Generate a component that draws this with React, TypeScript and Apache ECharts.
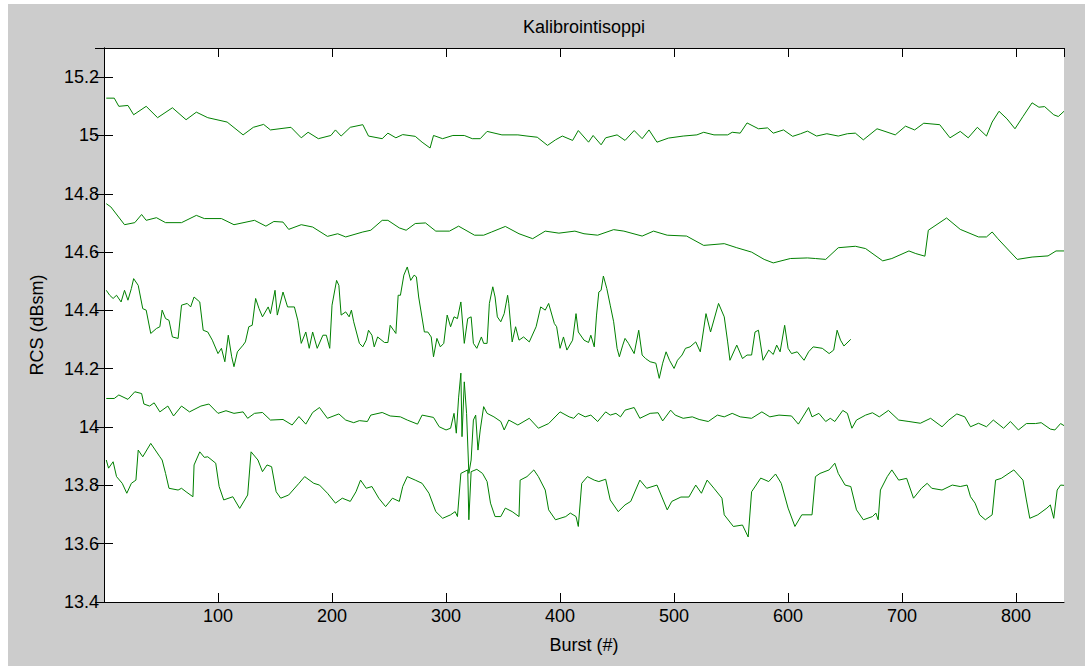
import React, { useEffect, useRef } from "react";
import * as echarts from "echarts";

const TITLE = "Kalibrointisoppi";
const X_LABEL = "Burst (#)";
const Y_LABEL = "RCS (dBsm)";

const X_MIN = 0;
const X_MAX = 842;
const X_STEP = 100;
const Y_MIN = 13.4;
const Y_MAX = 15.3;
const Y_STEP = 0.2;

// [burst, RCS dBsm]
const series1: [number, number][] = [
  [2, 15.128], [9, 15.128], [13, 15.1], [21, 15.103], [26, 15.071], [37, 15.1], [47, 15.061], [60, 15.095],
  [72, 15.054], [81, 15.08], [91, 15.061], [108, 15.046], [122, 15.002], [131, 15.028], [140, 15.038],
  [146, 15.019], [164, 15.028], [173, 14.992], [179, 15.011], [188, 14.989], [199, 15.0], [203, 15.019],
  [208, 14.998], [216, 15.028], [227, 15.037], [232, 14.998], [244, 14.989], [249, 15.008], [256, 14.992],
  [262, 15.003], [273, 14.997], [279, 14.977], [286, 14.957], [289, 15.0], [297, 14.989], [306, 15.0],
  [316, 15.0], [323, 14.989], [330, 14.989], [336, 15.014], [349, 15.002], [363, 15.002], [371, 14.998],
  [380, 14.994], [389, 14.966], [396, 14.985], [402, 14.998], [411, 14.983], [416, 15.017], [425, 14.977],
  [429, 15.0], [436, 14.968], [440, 14.992], [450, 15.002], [457, 14.983], [465, 15.017], [472, 14.989],
  [478, 15.019], [485, 14.977], [495, 14.991], [508, 14.998], [520, 15.002], [526, 15.011], [535, 15.002],
  [547, 15.002], [551, 15.011], [558, 15.008], [564, 15.043], [574, 15.023], [582, 15.026], [587, 15.008],
  [596, 15.019], [604, 14.997], [611, 15.006], [617, 15.015], [625, 14.998], [634, 15.006], [644, 14.998],
  [652, 15.006], [659, 15.008], [666, 14.985], [678, 15.023], [685, 15.014], [694, 15.002], [703, 15.032],
  [711, 15.019], [719, 15.042], [733, 15.037], [742, 14.992], [751, 15.014], [758, 14.992], [766, 15.028],
  [774, 14.998], [779, 15.046], [785, 15.083], [792, 15.057], [799, 15.023], [806, 15.065], [814, 15.112],
  [820, 15.097], [825, 15.099], [833, 15.071], [837, 15.065], [842, 15.083],
];

const series2: [number, number][] = [
  [2, 14.766], [6, 14.755], [18, 14.694], [27, 14.701], [33, 14.729], [37, 14.709], [46, 14.718], [54, 14.701],
  [68, 14.701], [81, 14.726], [88, 14.715], [103, 14.715], [114, 14.694], [132, 14.709], [142, 14.689],
  [149, 14.705], [157, 14.703], [162, 14.678], [173, 14.694], [183, 14.686], [196, 14.654], [205, 14.663],
  [212, 14.652], [227, 14.669], [234, 14.675], [244, 14.709], [249, 14.709], [259, 14.683], [265, 14.675],
  [273, 14.698], [282, 14.7], [291, 14.672], [303, 14.672], [311, 14.689], [325, 14.658], [333, 14.658],
  [340, 14.669], [352, 14.688], [364, 14.663], [376, 14.646], [387, 14.672], [399, 14.665], [413, 14.672],
  [421, 14.663], [433, 14.658], [447, 14.677], [456, 14.672], [472, 14.655], [482, 14.672], [494, 14.658],
  [511, 14.655], [526, 14.623], [544, 14.629], [555, 14.615], [568, 14.6], [579, 14.575], [587, 14.563],
  [602, 14.578], [617, 14.58], [624, 14.578], [633, 14.575], [644, 14.615], [659, 14.62], [668, 14.612],
  [683, 14.57], [691, 14.578], [706, 14.604], [712, 14.595], [720, 14.586], [723, 14.675], [739, 14.717],
  [751, 14.678], [767, 14.652], [774, 14.652], [779, 14.669], [784, 14.646], [801, 14.575], [814, 14.583],
  [828, 14.587], [835, 14.604], [842, 14.604],
];

const series3: [number, number][] = [
  [2, 14.469], [5, 14.452], [8, 14.441], [11, 14.452], [15, 14.429], [18, 14.469], [21, 14.435], [24, 14.475],
  [26, 14.509], [30, 14.486], [34, 14.406], [37, 14.401], [41, 14.321], [46, 14.338], [49, 14.344],
  [51, 14.401], [54, 14.372], [57, 14.366], [60, 14.309], [65, 14.304], [68, 14.418], [73, 14.424],
  [76, 14.412], [79, 14.446], [84, 14.429], [87, 14.332], [91, 14.326], [95, 14.298], [100, 14.252],
  [103, 14.27], [106, 14.224], [109, 14.315], [112, 14.241], [114, 14.207], [117, 14.258], [122, 14.281],
  [124, 14.292], [127, 14.344], [130, 14.349], [133, 14.441], [136, 14.406], [139, 14.378], [144, 14.412],
  [146, 14.389], [150, 14.469], [152, 14.384], [157, 14.463], [161, 14.412], [167, 14.412], [170, 14.366],
  [173, 14.287], [177, 14.326], [180, 14.27], [183, 14.326], [187, 14.27], [192, 14.315], [195, 14.315],
  [198, 14.27], [200, 14.418], [204, 14.503], [206, 14.486], [208, 14.384], [212, 14.395], [215, 14.378],
  [217, 14.401], [219, 14.361], [224, 14.287], [227, 14.275], [230, 14.298], [232, 14.332], [235, 14.315],
  [237, 14.275], [240, 14.309], [246, 14.29], [249, 14.29], [251, 14.349], [254, 14.332], [256, 14.321],
  [258, 14.452], [260, 14.452], [263, 14.521], [266, 14.549], [269, 14.503], [272, 14.521], [274, 14.515],
  [276, 14.446], [281, 14.326], [284, 14.326], [287, 14.309], [289, 14.241], [292, 14.304], [295, 14.275],
  [298, 14.287], [301, 14.384], [304, 14.344], [307, 14.378], [310, 14.372], [313, 14.429], [316, 14.287],
  [319, 14.372], [322, 14.378], [324, 14.287], [327, 14.27], [331, 14.309], [333, 14.287], [336, 14.287],
  [338, 14.424], [341, 14.481], [343, 14.446], [345, 14.378], [348, 14.361], [351, 14.389], [354, 14.452],
  [355, 14.424], [358, 14.292], [361, 14.344], [364, 14.298], [368, 14.309], [373, 14.292], [379, 14.344],
  [383, 14.412], [387, 14.401], [390, 14.424], [395, 14.355], [397, 14.344], [400, 14.27], [403, 14.309],
  [406, 14.264], [411, 14.298], [414, 14.389], [416, 14.326], [421, 14.298], [425, 14.29], [427, 14.315],
  [430, 14.275], [432, 14.384], [434, 14.463], [436, 14.469], [438, 14.518], [441, 14.475], [444, 14.418],
  [447, 14.361], [450, 14.27], [452, 14.241], [455, 14.281], [457, 14.304], [460, 14.287], [465, 14.252],
  [469, 14.332], [472, 14.247], [475, 14.235], [479, 14.224], [484, 14.219], [487, 14.167], [490, 14.219],
  [493, 14.258], [496, 14.229], [500, 14.201], [503, 14.229], [507, 14.247], [510, 14.27], [514, 14.275],
  [519, 14.292], [523, 14.258], [528, 14.389], [532, 14.326], [539, 14.424], [544, 14.378], [547, 14.292],
  [549, 14.229], [555, 14.281], [560, 14.235], [564, 14.247], [568, 14.247], [571, 14.326], [574, 14.332],
  [578, 14.229], [583, 14.264], [587, 14.249], [590, 14.281], [593, 14.258], [597, 14.349], [600, 14.27],
  [603, 14.252], [608, 14.258], [614, 14.229], [618, 14.258], [622, 14.275], [630, 14.27], [636, 14.252],
  [640, 14.264], [643, 14.332], [646, 14.298], [649, 14.278], [655, 14.301],
];

const series4: [number, number][] = [
  [2, 14.098], [9, 14.098], [13, 14.11], [21, 14.095], [27, 14.121], [33, 14.115], [35, 14.079], [40, 14.072],
  [44, 14.083], [49, 14.052], [56, 14.072], [61, 14.038], [68, 14.072], [75, 14.052], [85, 14.072],
  [92, 14.079], [100, 14.047], [107, 14.056], [114, 14.047], [122, 14.052], [126, 14.03], [132, 14.047],
  [139, 14.05], [146, 14.024], [157, 14.026], [165, 14.007], [171, 14.036], [177, 14.01], [183, 14.05],
  [189, 14.067], [196, 14.03], [206, 14.045], [212, 14.024], [219, 14.015], [224, 14.022], [231, 14.019],
  [234, 14.041], [244, 14.05], [251, 14.038], [260, 14.035], [266, 14.024], [275, 14.01], [279, 14.041],
  [289, 14.033], [294, 14.001], [300, 13.99], [304, 13.996], [307, 14.047], [309, 13.979], [311, 14.1],
  [313, 14.185], [314, 13.967], [316, 14.155], [318, 14.047], [320, 13.841], [322, 13.887], [324, 14.024],
  [326, 14.041], [328, 13.921], [330, 13.99], [333, 14.07], [336, 14.047], [342, 14.035], [348, 14.019],
  [351, 13.99], [355, 14.024], [363, 14.007], [373, 14.03], [381, 13.996], [390, 14.012], [400, 14.052],
  [408, 14.035], [412, 14.03], [416, 14.047], [422, 14.035], [427, 14.041], [433, 14.019], [440, 14.052],
  [444, 14.041], [449, 14.047], [453, 14.035], [457, 14.058], [465, 14.067], [470, 14.03], [479, 14.047],
  [486, 14.049], [490, 14.021], [497, 14.058], [501, 14.041], [508, 14.03], [516, 14.035], [522, 14.026],
  [530, 14.019], [538, 14.041], [544, 14.035], [551, 14.047], [558, 14.035], [568, 14.03], [577, 14.052],
  [584, 14.035], [592, 14.041], [603, 14.038], [609, 14.01], [618, 14.067], [621, 14.035], [627, 14.047],
  [633, 14.019], [637, 14.03], [641, 14.019], [648, 14.057], [652, 14.047], [656, 13.996], [660, 14.024],
  [668, 14.041], [674, 14.049], [680, 14.035], [688, 14.057], [697, 14.024], [706, 14.019], [716, 14.013],
  [725, 14.03], [735, 14.001], [741, 14.024], [748, 14.045], [755, 14.035], [760, 14.001], [767, 14.013],
  [774, 14.001], [780, 14.024], [789, 13.996], [795, 14.019], [802, 13.99], [809, 14.012], [817, 14.012],
  [822, 14.015], [830, 13.993], [834, 13.99], [839, 14.012], [842, 14.005],
];

const series5: [number, number][] = [
  [2, 13.887], [4, 13.859], [8, 13.881], [11, 13.83], [16, 13.807], [20, 13.773], [24, 13.807], [28, 13.818],
  [30, 13.921], [34, 13.898], [41, 13.944], [49, 13.898], [51, 13.887], [54, 13.841], [57, 13.79],
  [65, 13.784], [68, 13.79], [72, 13.778], [78, 13.761], [79, 13.87], [84, 13.915], [88, 13.896],
  [91, 13.898], [98, 13.876], [101, 13.796], [105, 13.75], [113, 13.761], [119, 13.721], [126, 13.767],
  [129, 13.915], [135, 13.887], [139, 13.847], [143, 13.87], [147, 13.864], [151, 13.778], [155, 13.756],
  [162, 13.767], [171, 13.807], [176, 13.83], [184, 13.807], [189, 13.801], [196, 13.773], [203, 13.739],
  [209, 13.756], [216, 13.745], [221, 13.778], [225, 13.818], [230, 13.79], [235, 13.796], [241, 13.756],
  [247, 13.727], [253, 13.756], [259, 13.745], [262, 13.796], [266, 13.83], [273, 13.818], [279, 13.807],
  [285, 13.773], [291, 13.71], [297, 13.687], [304, 13.699], [308, 13.71], [310, 13.693], [313, 13.841],
  [319, 13.853], [320, 13.682], [322, 13.847], [327, 13.855], [332, 13.841], [336, 13.813], [339, 13.739],
  [343, 13.693], [348, 13.693], [352, 13.722], [358, 13.71], [364, 13.693], [365, 13.818], [371, 13.83],
  [377, 13.853], [381, 13.83], [387, 13.784], [390, 13.716], [396, 13.682], [405, 13.693], [409, 13.705],
  [414, 13.693], [416, 13.659], [419, 13.807], [424, 13.83], [430, 13.818], [434, 13.813], [440, 13.821],
  [444, 13.75], [451, 13.71], [457, 13.733], [462, 13.745], [470, 13.818], [476, 13.79], [485, 13.801],
  [494, 13.716], [498, 13.745], [506, 13.76], [513, 13.76], [519, 13.801], [524, 13.773], [529, 13.818],
  [535, 13.79], [542, 13.756], [544, 13.699], [552, 13.659], [560, 13.664], [565, 13.623], [568, 13.778],
  [576, 13.825], [583, 13.813], [589, 13.839], [594, 13.807], [600, 13.722], [606, 13.659], [612, 13.699],
  [621, 13.699], [624, 13.83], [628, 13.841], [636, 13.853], [641, 13.876], [644, 13.841], [650, 13.801],
  [655, 13.796], [660, 13.716], [666, 13.682], [674, 13.693], [677, 13.705], [679, 13.682], [681, 13.784],
  [687, 13.83], [691, 13.853], [697, 13.818], [704, 13.824], [710, 13.756], [717, 13.79], [722, 13.807],
  [726, 13.79], [735, 13.784], [744, 13.801], [751, 13.796], [757, 13.801], [760, 13.761], [764, 13.739],
  [768, 13.699], [773, 13.682], [779, 13.699], [782, 13.818], [787, 13.824], [798, 13.853], [806, 13.818],
  [809, 13.75], [812, 13.687], [819, 13.699], [827, 13.722], [830, 13.733], [833, 13.687], [836, 13.784],
  [839, 13.801], [842, 13.8],
];

const ALL_SERIES = [series1, series2, series3, series4, series5];

const FONT = "'Liberation Sans', Arial, Helvetica, sans-serif";
const FONT_SIZE = 18;
const LINE_COLOR = "#008000";

export default function App() {
  const ref = useRef<HTMLDivElement>(null);

  useEffect(() => {
    if (!ref.current) return;
    const chart = echarts.init(ref.current, null, { renderer: "svg" });

    const tickStyle = { show: true, inside: true, length: 9, lineStyle: { color: "#000", width: 1 } };
    const lineStyle = { show: true, lineStyle: { color: "#000", width: 1 } };
    const labelStyle = { color: "#000", fontSize: FONT_SIZE, fontFamily: FONT };

    const xBase = { type: "value", min: X_MIN, max: X_MAX, interval: X_STEP, splitLine: { show: false }, axisLine: lineStyle, axisTick: tickStyle };
    const yBase = { type: "value", min: Y_MIN, max: Y_MAX, interval: Y_STEP, splitLine: { show: false }, axisLine: lineStyle, axisTick: tickStyle };

    chart.setOption({
      animation: false,
      backgroundColor: "#cccccc",
      grid: { left: 96, right: 21, top: 44, bottom: 64, show: true, backgroundColor: "#ffffff", borderWidth: 0 },
      xAxis: [
        { ...xBase, position: "bottom", axisLabel: { ...labelStyle, margin: 5, showMinLabel: false, showMaxLabel: false } },
        { ...xBase, position: "top", axisLabel: { show: false } },
      ],
      yAxis: [
        { ...yBase, position: "left", axisLabel: { ...labelStyle, margin: 5, showMaxLabel: false } },
        { ...yBase, position: "right", axisLabel: { show: false } },
      ],
      graphic: [
        { type: "text", x: 576, y: 23, silent: true, style: { text: TITLE, fill: "#000", font: `${FONT_SIZE}px ${FONT}`, align: "center", verticalAlign: "middle" } },
        { type: "text", x: 576, y: 641, silent: true, style: { text: X_LABEL, fill: "#000", font: `${FONT_SIZE}px ${FONT}`, align: "center", verticalAlign: "middle" } },
        { type: "text", x: 29, y: 321, rotation: Math.PI / 2, silent: true, style: { text: Y_LABEL, fill: "#000", font: `${FONT_SIZE}px ${FONT}`, align: "center", verticalAlign: "middle" } },
      ],
      series: ALL_SERIES.map((d) => ({
        type: "line",
        data: d,
        xAxisIndex: 0,
        yAxisIndex: 0,
        symbol: "none",
        showSymbol: false,
        silent: true,
        lineStyle: { color: LINE_COLOR, width: 1 },
      })),
    });

    return () => chart.dispose();
  }, []);

  return <div ref={ref} style={{ position: "absolute", left: 8, top: 4, width: 1077, height: 662 }} />;
}
